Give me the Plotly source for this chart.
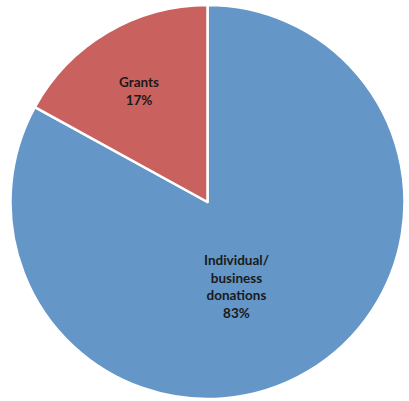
import plotly.graph_objects as go

labels = ["Individual/<br>business<br>donations", "Grants"]
values = [83, 17]
colors = ["#6496C8", "#C9625F"]

W, H = 409, 401
total = sum(values)

fig = go.Figure(go.Pie(
    labels=labels,
    values=values,
    sort=False,
    direction="clockwise",
    rotation=0,
    marker=dict(colors=colors, line=dict(color="white", width=2.5)),
    textinfo="none",
    domain=dict(x=[10/W, 405/W], y=[1-399/H, 1-5/H]),
    showlegend=False,
    hoverinfo="label+percent",
))

# label placement (pixel centres of the text blocks)
label_pos = [(237, 286.5), (138.5, 90.5)]
for lab, val, (px, py) in zip(labels, values, label_pos):
    fig.add_annotation(
        x=px / W, y=1 - py / H, xref="paper", yref="paper",
        text=f"{lab}<br>{round(100*val/total)}%",
        showarrow=False, xanchor="center", yanchor="middle", align="center",
        font=dict(family="Lato", size=13.5, color="#1a1a1a", weight="bold"),
    )

fig.update_layout(
    width=W, height=H,
    margin=dict(l=0, r=0, t=0, b=0),
    paper_bgcolor="white",
    plot_bgcolor="white",
)

fig.write_html("out.html", config={"displayModeBar": False},
               post_script="document.body.style.margin='0';")
